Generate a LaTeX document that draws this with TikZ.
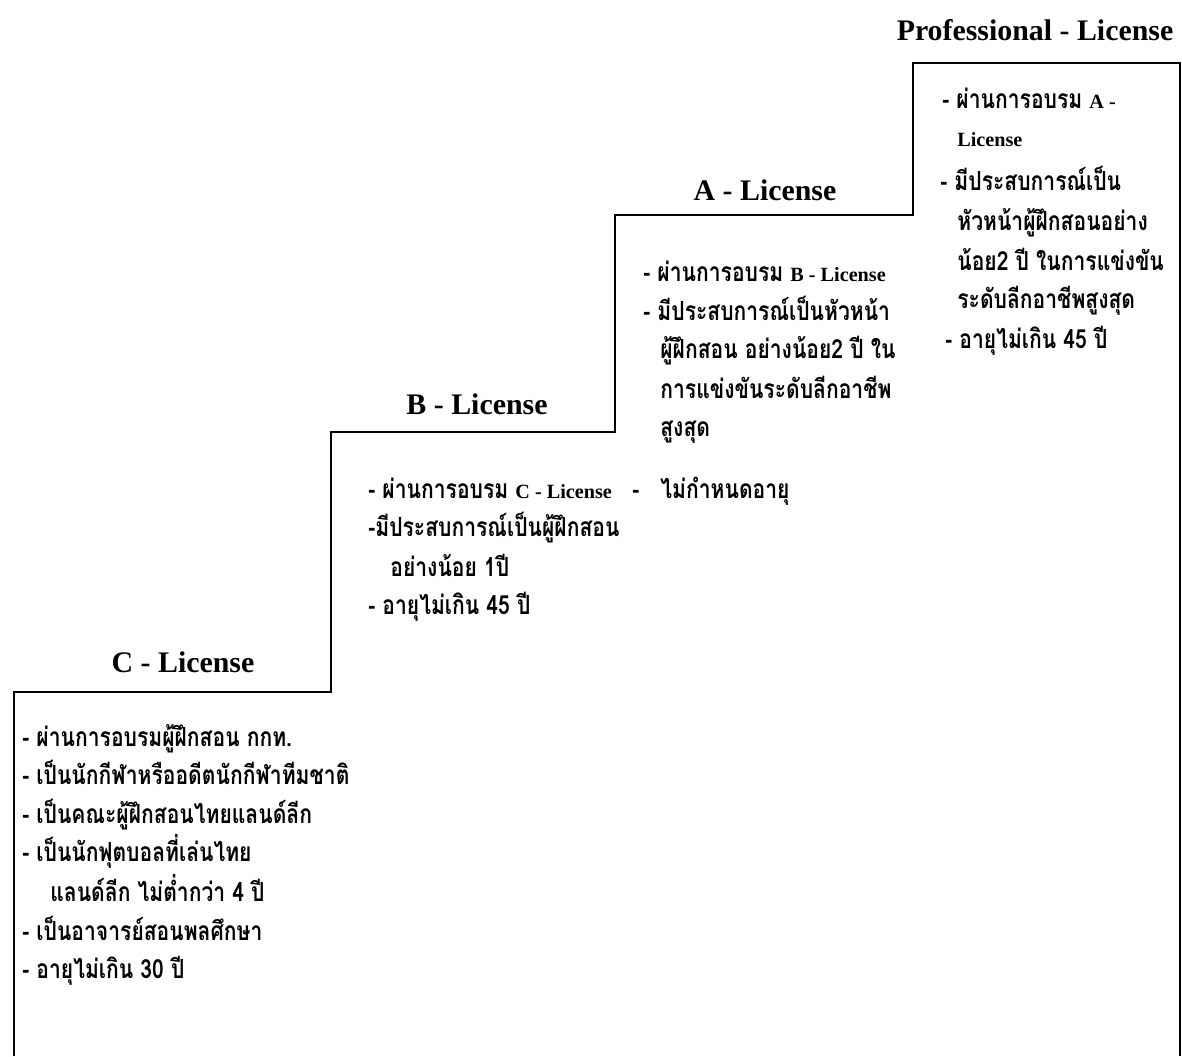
\documentclass[tikz,border=0pt]{standalone}
\usepackage{fontspec}
\setmainfont{Liberation Serif}
\newfontfamily\thaifont[Script=Thai,FakeStretch=0.8]{Loma}
\newcommand{\lat}[1]{{\rmfamily\bfseries\fontsize{11.5}{13}\selectfont #1}}

\tikzset{
  steptitle/.style={font=\rmfamily\bfseries\fontsize{17}{20}\selectfont, inner sep=0pt},
  stepitem/.style={anchor=base west, inner sep=0pt, font=\thaifont\bfseries\fontsize{15}{18}\selectfont},
}

\begin{document}
\begin{tikzpicture}[x=0.02cm, y=-0.02cm]
        \useasboundingbox (0,0) rectangle (1182,1056);

        % the staircase
        \draw[line width=1.2pt] (14,1056) -- (14,692) -- (331,692) -- (331,432)
            -- (615,432) -- (615,215) -- (913,215) -- (913,63) -- (1180,63) -- (1180,1056);

        % the titles of the steps
        \node[steptitle] (ctitle) at (183,662) {C - License};
        \node[steptitle] (btitle) at (477,404) {B - License};
        \node[steptitle] (atitle) at (765,190) {A - License};
        \node[steptitle] (ptitle) at (1035,30) {Professional - License};

        % C - License
        \node[stepitem] (c1) at (22,746) {- ผ่านการอบรมผู้ฝึกสอน กกท.};
        \node[stepitem] (c2) at (22,784) {- เป็นนักกีฬาหรืออดีตนักกีฬาทีมชาติ};
        \node[stepitem] (c3) at (22,823) {- เป็นคณะผู้ฝึกสอนไทยแลนด์ลีก};
        \node[stepitem] (c4) at (22,861) {- เป็นนักฟุตบอลที่เล่นไทย};
        \node[stepitem] (c5) at (50,901) {แลนด์ลีก ไม่ต่ำกว่า 4 ปี};
        \node[stepitem] (c6) at (22,940) {- เป็นอาจารย์สอนพลศึกษา};
        \node[stepitem] (c7) at (22,978) {- อายุไม่เกิน 30 ปี};

        % B - License
        \node[stepitem] (b1) at (368,498) {- ผ่านการอบรม \lat{C - License}};
        \node[stepitem] (b2) at (368,536) {-มีประสบการณ์เป็นผู้ฝึกสอน};
        \node[stepitem] (b3) at (390,576) {อย่างน้อย 1ปี};
        \node[stepitem] (b4) at (368,614) {- อายุไม่เกิน 45 ปี};

        % A - License
        \node[stepitem] (a1) at (643,281) {- ผ่านการอบรม \lat{B - License}};
        \node[stepitem] (a2) at (643,320) {- มีประสบการณ์เป็นหัวหน้า};
        \node[stepitem] (a3) at (660,358) {ผู้ฝึกสอน อย่างน้อย2 ปี ใน};
        \node[stepitem] (a4) at (660,398) {การแข่งขันระดับลีกอาชีพ};
        \node[stepitem] (a5) at (660,436) {สูงสุด};
        \node[stepitem] (a6) at (632,498) {-\hspace{12pt}ไม่กำหนดอายุ};

        % Professional - License
        \node[stepitem] (p1) at (942,108) {- ผ่านการอบรม \lat{A -}};
        \node[stepitem] (p2) at (957,146) {\lat{License}};
        \node[stepitem] (p3) at (940,190) {- มีประสบการณ์เป็น};
        \node[stepitem] (p4) at (957,230) {หัวหน้าผู้ฝึกสอนอย่าง};
        \node[stepitem] (p5) at (957,270) {น้อย2 ปี ในการแข่งขัน};
        \node[stepitem] (p6) at (957,308) {ระดับลีกอาชีพสูงสุด};
        \node[stepitem] (p7) at (945,348) {- อายุไม่เกิน 45 ปี};

    \end{tikzpicture}
\end{document}
